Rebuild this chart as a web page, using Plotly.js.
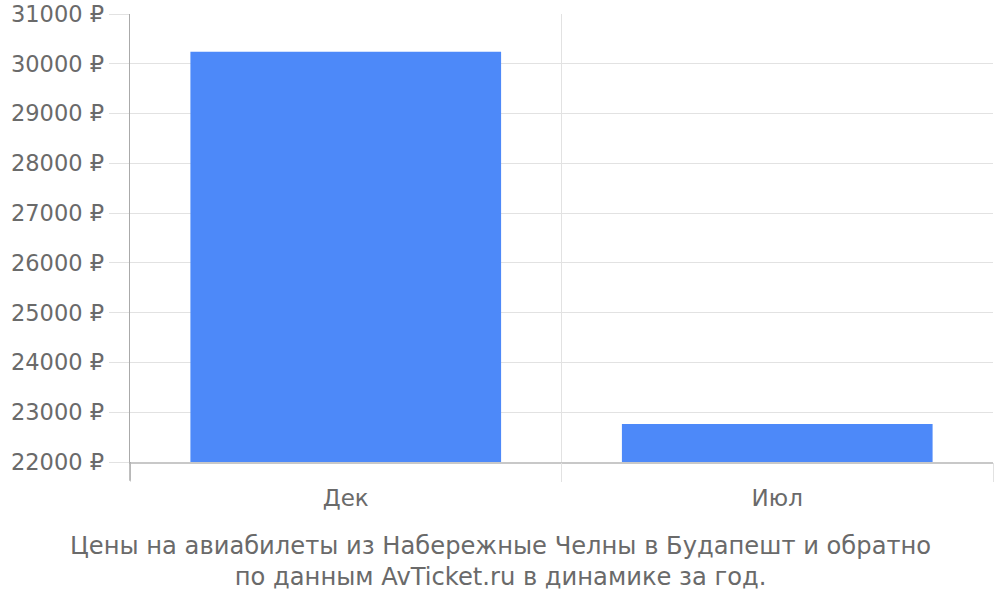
<!DOCTYPE html>
<html><head><meta charset="utf-8">
<script src="https://cdn.plot.ly/plotly-3.0.1.min.js"></script>
<style>html,body{margin:0;padding:0;background:#fff}#chart{width:1000px;height:600px}</style>
</head><body><div id="chart"></div>
<script>
const categories = ["Дек", "Июл"];
const prices = [30240, 22765];
const yTicks = [22000, 23000, 24000, 25000, 26000, 27000, 28000, 29000, 30000, 31000];
const titleText = "Цены на авиабилеты из Набережные Челны в Будапешт и обратно<br>по данным AvTicket.ru в динамике за год.";

const font = "DejaVu Sans, sans-serif";
const txt = "#6a6a6a";

const data = [{
  type: "bar",
  x: categories.map((c, i) => i + 0.5),
  y: prices,
  width: 0.72,
  marker: {color: "#4d89f9", line: {width: 0}},
  hoverinfo: "skip"
}, {
  type: "bar", x: categories.map((c, i) => i + 0.5), y: [null, null], xaxis: "x2", showlegend: false, hoverinfo: "skip"
}];

const layout = {
  width: 1000, height: 600,
  margin: {l: 130, r: 7, t: 14, b: 138},
  paper_bgcolor: "#fff", plot_bgcolor: "#fff",
  showlegend: false,
  font: {family: font, size: 22, color: txt},
  xaxis: {
    range: [0, categories.length],
    tickvals: categories.map((c, i) => i + 0.5),
    ticktext: categories,
    showgrid: false, zeroline: false,
    ticks: "outside", ticklen: 15, tickcolor: "rgba(0,0,0,0)",
    showline: true, linecolor: "#c8c8c8", linewidth: 1.5,
    tickfont: {size: 23, color: txt},
    fixedrange: true
  },
  xaxis2: {
    overlaying: "x", anchor: "y", side: "bottom",
    range: [0, categories.length],
    tickvals: categories.map((c, i) => i).concat([categories.length]),
    showticklabels: false,
    showgrid: true, gridcolor: "#e2e2e2", gridwidth: 1,
    ticks: "outside", ticklen: 19, tickcolor: "#e2e2e2", tickwidth: 1,
    zeroline: false, showline: false
  },
  yaxis: {
    range: [22000, 31000],
    tickvals: yTicks,
    ticktext: yTicks.map(v => v + " ₽"),
    showgrid: true, gridcolor: "#e2e2e2", gridwidth: 1,
    ticks: "outside", ticklen: 20, tickcolor: "#e2e2e2",
    zeroline: false,
    showline: true, linecolor: "#aaaaaa", linewidth: 1.5,
    tickfont: {size: 22.5, color: txt},
    fixedrange: true
  },
  annotations: [{
    text: titleText, xref: "paper", yref: "paper",
    x: 0.429, y: -0.221, xanchor: "center", yanchor: "middle",
    showarrow: false, align: "center",
    font: {family: font, size: 24.2, color: txt}
  }],
  shapes: [{
    type: "line", xref: "paper", yref: "paper",
    x0: 0, x1: 0, y0: 0, y1: -0.042,
    line: {color: "#aaaaaa", width: 1.5}
  }]
};

Plotly.newPlot("chart", data, layout, {displayModeBar: false, staticPlot: true});
</script></body></html>
